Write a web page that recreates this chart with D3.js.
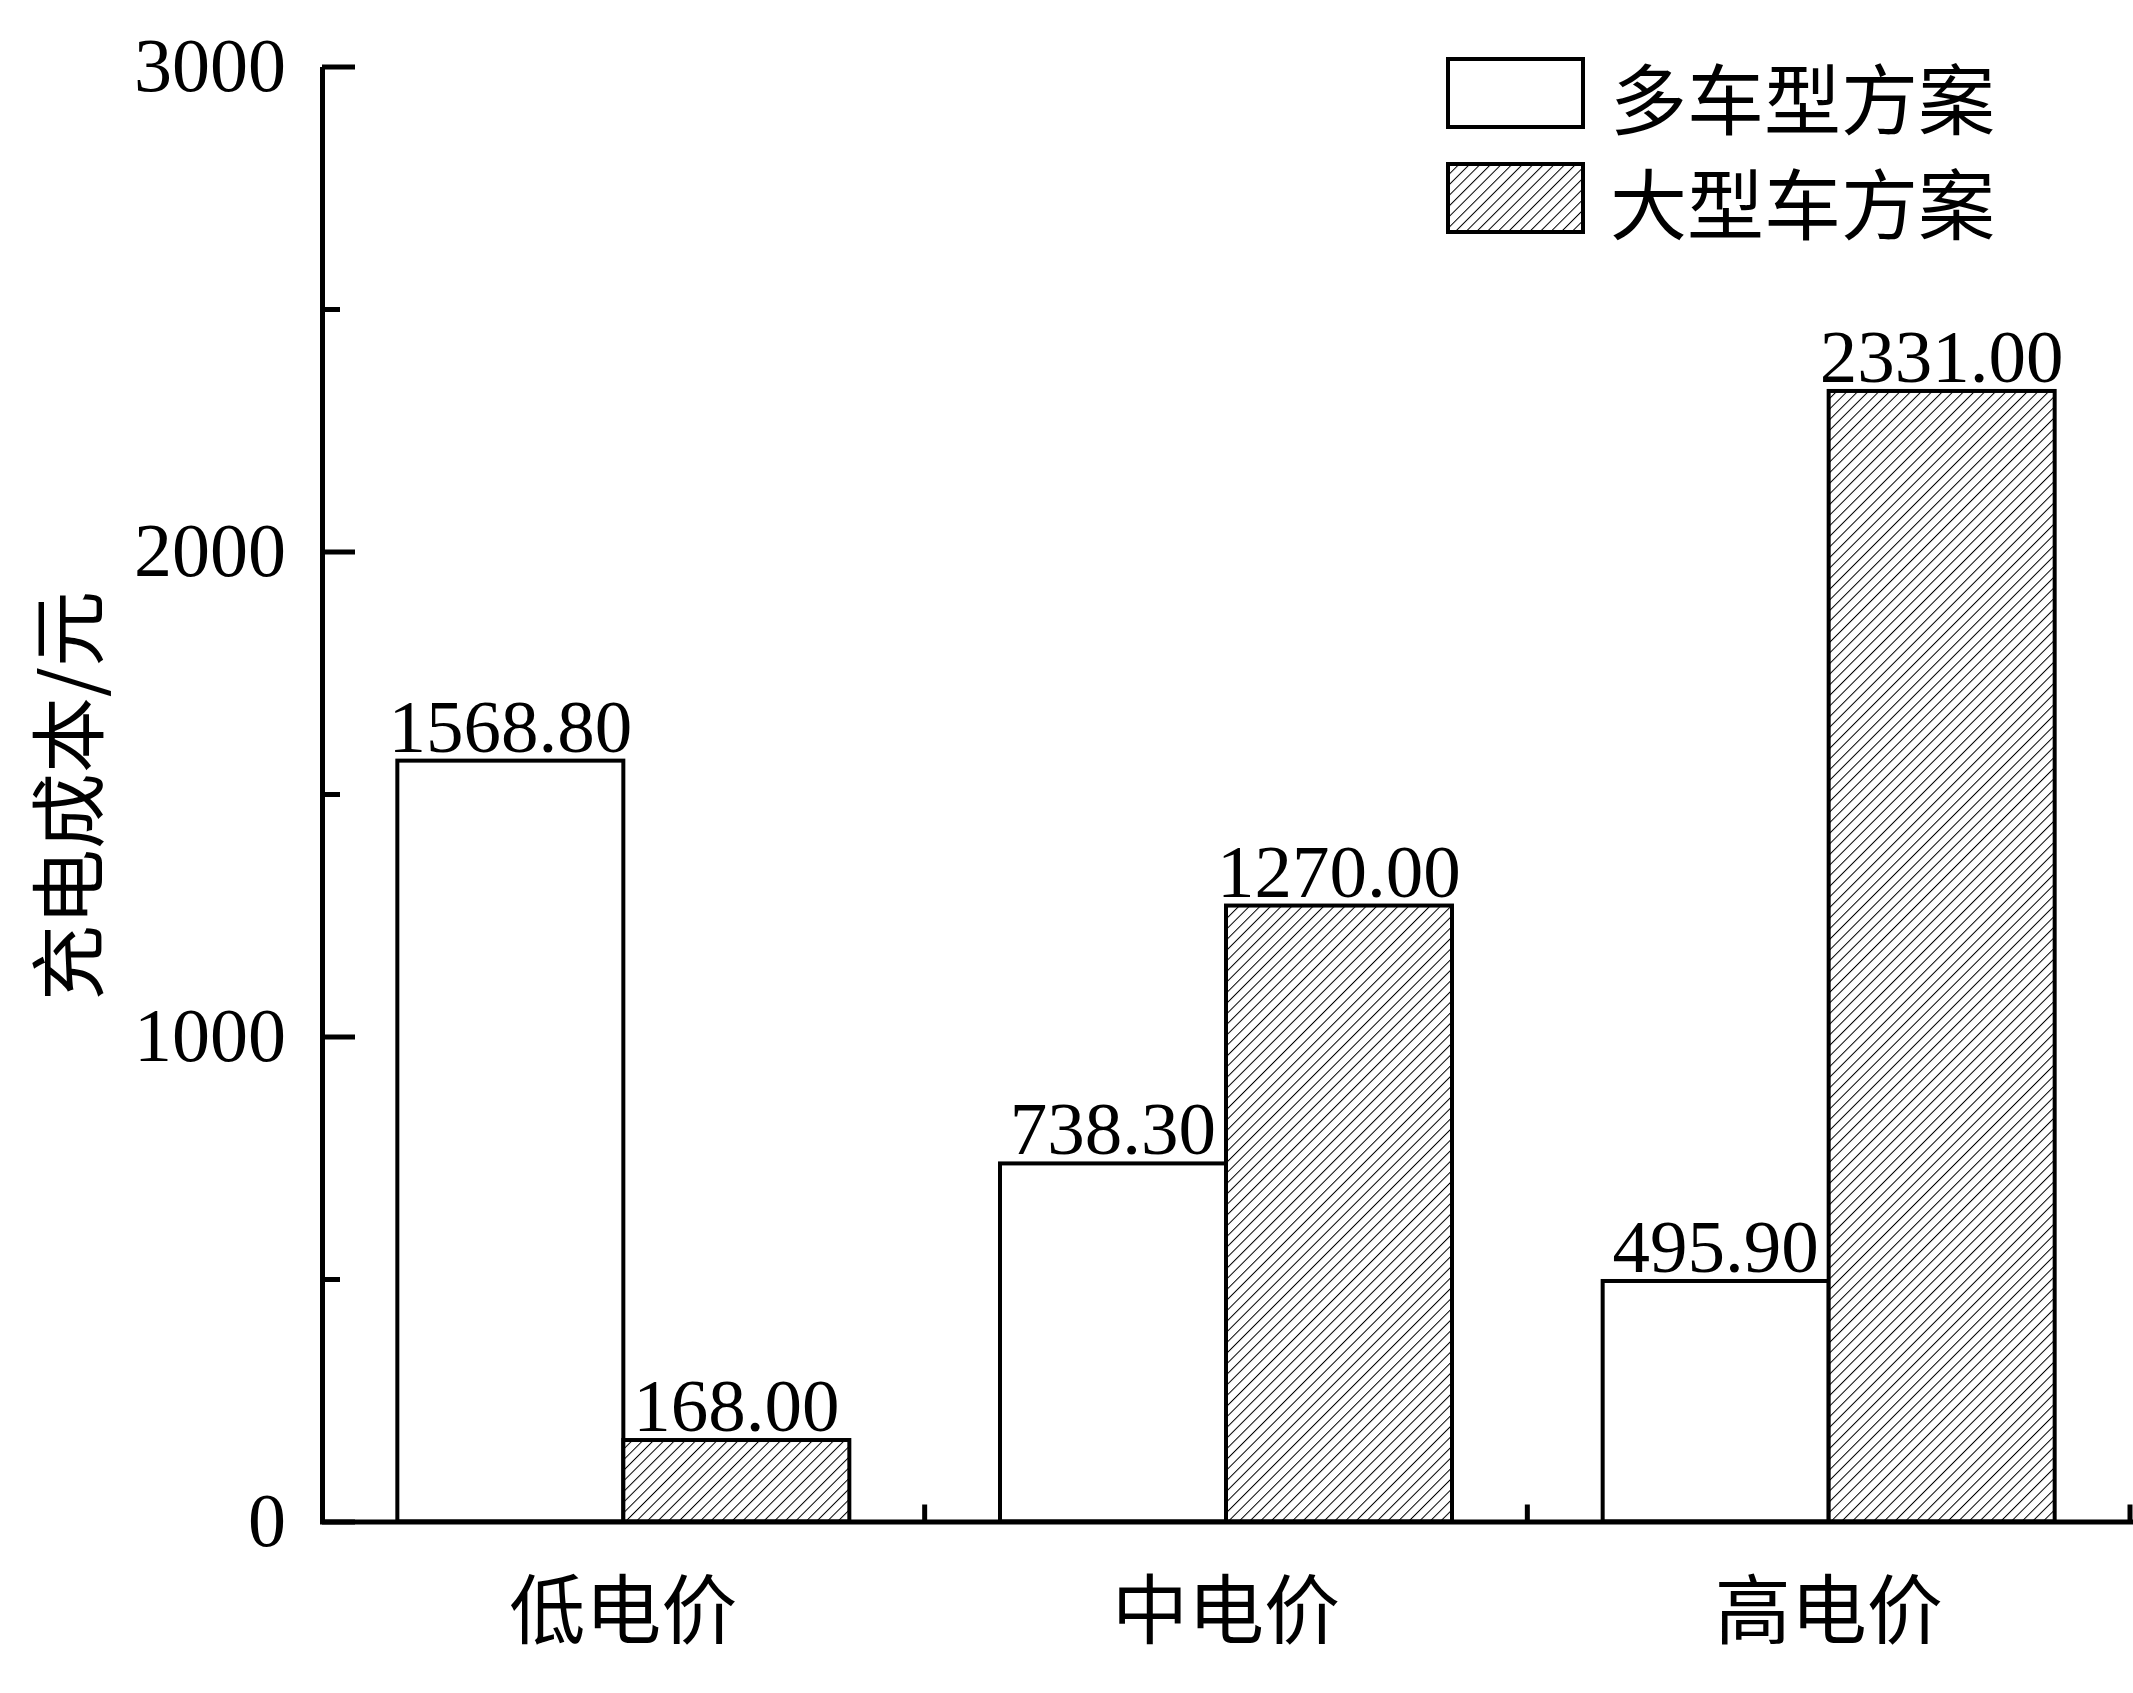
<!DOCTYPE html>
<html>
<head>
<meta charset="utf-8">
<script src="https://cdn.jsdelivr.net/npm/d3@7"></script>
<style>
  html, body { margin: 0; padding: 0; background: #fff; }
  svg { display: block; }
</style>
</head>
<body>
<svg id="chart" width="2133" height="1693"></svg>
<script>
const categories = ["低电价", "中电价", "高电价"];
const seriesNames = ["多车型方案", "大型车方案"];
const multiModel = [1568.80, 738.30, 495.90];
const largeModel = [168.00, 1270.00, 2331.00];
const majorTicks = [0, 1000, 2000, 3000];
const minorTicks = [500, 1500, 2500];
const yLabel = "充电成本/元";

const svg = d3.select("#chart");
const serif = "'Liberation Serif', 'Times New Roman', serif";
const cjk = "'Noto Sans CJK SC', 'Noto Sans CJK JP', sans-serif";

const plotLeft = 322, plotRight = 2130, plotTop = 66.5, plotBottom = 1521.5;

const defs = svg.append("defs");
const pat = defs.append("pattern")
  .attr("id", "hatch")
  .attr("patternUnits", "userSpaceOnUse")
  .attr("width", 7.5).attr("height", 7.5)
  .attr("patternTransform", "rotate(45)");
pat.append("rect").attr("width", 7.5).attr("height", 7.5).attr("fill", "#fff");
pat.append("line").attr("x1", 0).attr("y1", 0).attr("x2", 0).attr("y2", 7.5)
  .attr("stroke", "#000").attr("stroke-width", 2);

const x = d3.scaleBand().domain(categories).range([plotLeft, plotRight]).paddingInner(0).paddingOuter(0);
const xs = d3.scaleBand().domain(seriesNames)
  .range([x.bandwidth() * 0.125, x.bandwidth() * 0.875]).padding(0);
const y = d3.scaleLinear().domain([0, 3000]).range([plotBottom, plotTop]);

const data = categories.map((c, i) => ({
  cat: c,
  vals: [
    { s: seriesNames[0], v: multiModel[i] },
    { s: seriesNames[1], v: largeModel[i] }
  ]
}));

const fills = { [seriesNames[0]]: "#fff", [seriesNames[1]]: "url(#hatch)" };

const groups = svg.append("g").selectAll("g").data(data).join("g")
  .attr("transform", d => `translate(${x(d.cat)},0)`);

groups.selectAll("rect").data(d => d.vals).join("rect")
  .attr("x", d => xs(d.s))
  .attr("y", d => y(d.v))
  .attr("width", xs.bandwidth())
  .attr("height", d => y(0) - y(d.v))
  .attr("fill", d => fills[d.s])
  .attr("stroke", "#000")
  .attr("stroke-width", 4);

groups.selectAll("text.val").data(d => d.vals).join("text")
  .attr("class", "val")
  .attr("x", d => xs(d.s) + xs.bandwidth() / 2)
  .attr("y", d => y(d.v) - 9)
  .attr("text-anchor", "middle")
  .attr("font-family", serif)
  .attr("font-size", 75)
  .text(d => d.v.toFixed(2));

// Y axis (major)
const yAxis = d3.axisLeft(y).tickValues(majorTicks).tickSizeInner(-33).tickSizeOuter(0).tickPadding(36)
  .tickFormat(d3.format("d"));
const gy = svg.append("g").attr("transform", `translate(${plotLeft},0)`).call(yAxis);
gy.select(".domain").attr("stroke-width", 5).attr("stroke", "#000");
gy.selectAll(".tick line").attr("stroke-width", 5).attr("stroke", "#000");
gy.selectAll(".tick text").attr("font-family", serif).attr("font-size", 76).attr("fill", "#000");

// Y axis (minor)
const yMinor = d3.axisLeft(y).tickValues(minorTicks).tickSizeInner(-18).tickSizeOuter(0).tickFormat("");
const gym = svg.append("g").attr("transform", `translate(${plotLeft},0)`).call(yMinor);
gym.select(".domain").remove();
gym.selectAll(".tick line").attr("stroke-width", 5).attr("stroke", "#000");

// X axis
const xAxis = d3.axisBottom(x).tickSize(0).tickSizeOuter(0).tickPadding(52);
const gx = svg.append("g").attr("transform", `translate(0,${plotBottom})`).call(xAxis);
gx.select(".domain").attr("stroke-width", 5).attr("stroke", "#000").attr("stroke-linecap", "square");
gx.selectAll(".tick text").attr("font-family", cjk).attr("font-size", 76).attr("fill", "#000")
  .attr("dy", "0.85em");
gx.selectAll(".bound").data(categories).join("line")
  .attr("class", "bound")
  .attr("x1", d => x(d) + x.bandwidth()).attr("x2", d => x(d) + x.bandwidth())
  .attr("y1", 0).attr("y2", -17)
  .attr("stroke", "#000").attr("stroke-width", 5);

// Y label
svg.append("text")
  .attr("transform", `translate(64,796) rotate(-90)`)
  .attr("text-anchor", "middle")
  .attr("dominant-baseline", "central")
  .attr("font-family", cjk)
  .attr("font-size", 76)
  .text(yLabel);

// Legend
const legend = svg.append("g");
const legRows = legend.selectAll("g").data(seriesNames).join("g")
  .attr("transform", (d, i) => `translate(1448,${59 + i * 105})`);
legRows.append("rect")
  .attr("width", 135).attr("height", 68)
  .attr("fill", d => fills[d])
  .attr("stroke", "#000").attr("stroke-width", 4);
legRows.append("text")
  .attr("x", 162).attr("y", 36)
  .attr("dominant-baseline", "central")
  .attr("font-family", cjk)
  .attr("font-size", 77)
  .text(d => d);
</script>
</body>
</html>
